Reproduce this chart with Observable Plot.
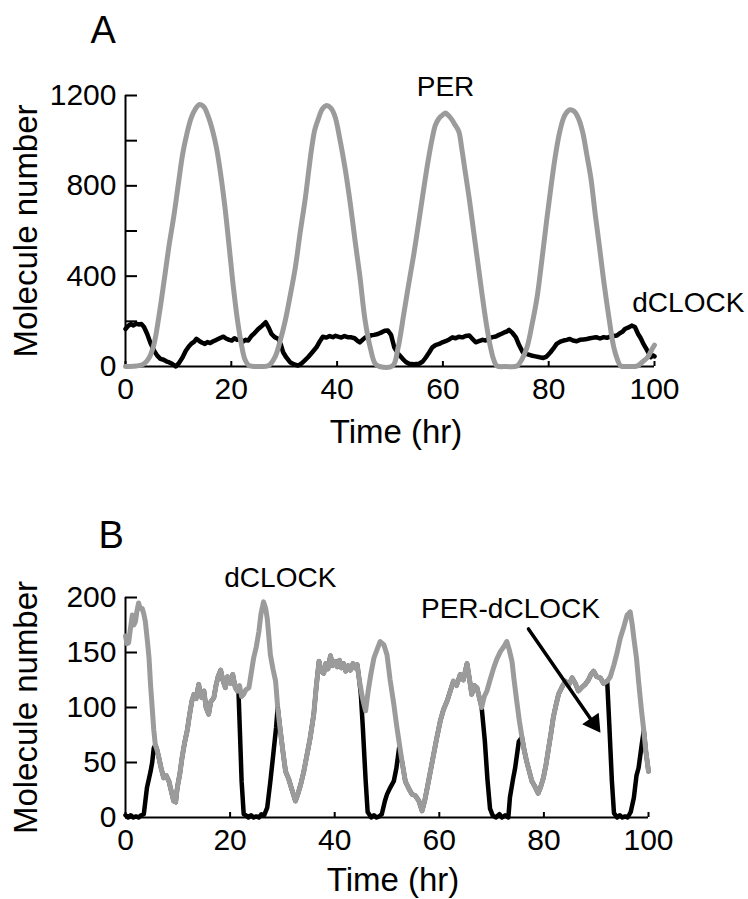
<!DOCTYPE html>
<html>
<head>
<meta charset="utf-8">
<script src="https://cdn.jsdelivr.net/npm/d3@7"></script>
<script src="https://cdn.jsdelivr.net/npm/@observablehq/plot@0.6"></script>
<style>
  body { margin: 0; background: #fff; }
  #chart { width: 748px; }
  #chart svg { display: block; }
</style>
</head>
<body>
<div id="chart"></div>
<script>
// ---------- Panel A: PER (gray) ----------
const tPerA = [0,2,3.4,4.5,5.4,6.3,7.3,8.2,9.2,10,10.8,11.6,12.4,13.2,14,14.8,15.6,16.4,17.2,18,18.8,19.6,20.4,21.2,22,22.6,23.3,25,27.1,28.3,29.2,30.2,31.1,32.1,33,34,34.6,35.2,35.8,36.5,37.2,38,38.8,39.6,40.5,41.5,42.5,43.4,44.3,45.3,46.3,47.2,48,50.5,51.5,52.6,53.5,54.5,55.5,56.4,57.2,58,58.6,59.3,60,60.5,61.1,61.7,62.3,63,63.6,64.2,65,65.8,66.6,67.4,68.2,69,69.6,70.2,72,74,74.9,75.9,76.8,77.8,78.7,79.6,80.4,81.2,82,82.8,83.4,84,84.8,85.6,86.4,87.2,88,88.8,89.6,90.4,91.3,92.3,93,93.6,95,96.8,97.7,98.7,99.5,100];
const vPerA = [0,2,10,40,100,220,380,530,676,810,940,1030,1100,1140,1160,1150,1110,1050,968,850,705,530,350,200,86,30,5,0,5,44,110,203,310,438,590,747,860,968,1050,1100,1140,1156,1145,1107,1010,879,720,556,400,203,80,12,0,3,80,232,360,497,650,791,910,1012,1070,1100,1115,1122,1110,1093,1070,1041,960,865,740,600,460,320,190,85,30,3,0,2,30,85,180,306,470,644,790,924,1030,1100,1125,1137,1130,1100,1040,938,830,673,530,379,230,85,30,3,0,3,20,41,75,95];

// ---------- Panel A: dCLOCK (black) ----------
const tClkA = [0,0.5,1,1.5,2,2.5,3,3.5,4.1,4.7,5.4,6,6.6,7.2,7.8,8.2,8.8,9.5,10.1,10.8,11.4,12,12.4,13,13.4,14,14.5,15,15.5,16,16.6,17.2,17.8,18.5,19,19.6,20.1,20.6,21.1,21.6,22.2,22.7,23.2,23.8,24.4,25.1,25.8,26.5,27.1,27.6,28.2,28.9,29.4,29.8,30.4,31.1,31.8,32.6,33.2,33.8,34.5,35.2,36.1,36.7,37.3,38,38.6,39.2,39.7,40.2,40.8,41.4,42,42.7,43.3,43.8,44.3,44.9,45.4,45.8,46.4,47,47.7,48.3,49,49.6,50.2,50.8,51.5,52.4,53,53.6,54.5,55.5,56.2,56.8,57.4,58,58.6,59.3,59.9,60.5,61.2,61.8,62.4,63,63.7,64.3,65,65.6,66.2,66.8,67.5,68.1,68.7,69.4,70,70.6,71.1,71.6,72.1,72.5,73.1,73.8,74.4,75.1,75.9,76.7,77.5,78.3,79,79.6,80.3,80.9,81.5,82.2,82.8,83.4,84,84.6,85.3,85.9,86.6,87.2,87.8,88.5,89.1,89.7,90.4,91,91.6,92.3,92.9,93.5,94,94.4,95,95.7,96.3,96.9,97.4,97.9,98.4,98.8,99.3,99.7,100];
const vClkA = [166,180,188,182,190,186,188,175,144,105,70,48,34,30,22,19,12,0,15,41,70,90,100,110,122,112,105,100,108,104,112,118,125,132,124,118,115,125,118,122,110,118,115,135,148,166,180,196,170,144,130,122,95,63,40,19,10,4,12,25,41,60,85,110,132,128,135,130,136,132,128,135,130,129,125,115,107,120,130,128,138,140,144,150,158,159,140,85,58,34,20,12,10,12,22,41,62,85,95,100,107,112,120,129,125,132,129,135,137,122,107,112,118,115,125,130,133,140,145,151,155,162,150,129,95,63,55,49,45,41,38,44,62,80,100,110,115,118,122,115,112,118,120,122,125,128,129,124,130,127,132,135,137,148,155,166,172,181,175,144,125,100,80,63,41,50,45];

// ---------- Panel B: dCLOCK (gray) ----------
const tClkB = [0,0.3,0.6,0.9,1.3,1.6,1.9,2.2,2.5,2.8,3.2,3.5,3.8,4.2,4.5,4.8,5.1,5.4,5.7,6,6.4,6.8,7.3,7.8,8.3,8.7,9.2,9.6,9.9,10.4,10.8,11.3,11.8,12.2,12.7,13.1,13.5,14,14.3,14.6,15,15.4,15.9,16.3,16.9,17.3,17.7,18.2,18.6,19.1,19.5,20.1,20.5,21,21.4,21.8,22.2,22.6,23,23.6,24,24.5,25,25.5,25.9,26.4,26.8,27.1,27.4,27.7,28.2,28.7,29.1,29.6,30.1,30.6,31.2,31.9,32.5,33,33.5,34.1,34.7,35.3,36,36.5,37,37.4,37.9,38.3,38.7,39.2,39.6,40.1,40.5,40.9,41.3,41.7,42.1,42.6,43,43.5,43.9,44.3,44.7,45.3,45.9,46.4,46.9,47.5,48.2,48.7,49.4,50,50.6,51.3,51.8,52.3,52.9,53.5,54.2,54.8,55.4,56.1,56.7,57.2,57.7,58.3,58.9,59.5,60.2,60.8,61.5,62.1,62.7,63.3,64,64.6,65.3,65.8,66.2,66.7,67.2,67.7,68.1,68.6,69.1,69.7,70.4,71,71.7,72.3,72.9,73.4,73.9,74.3,74.8,75.3,75.8,76.2,76.7,77.2,77.7,78.3,78.9,79.4,79.9,80.4,80.9,81.4,81.8,82.3,82.8,83.4,84.1,84.7,85.4,86,86.6,87.2,87.9,88.5,89,89.5,90.1,90.8,91.4,92.1,92.7,93.4,94,94.6,95.2,95.9,96.5,96.9,97.2,97.7,98.1,98.6,99.1,99.5,100];
const vClkB = [165,158,159,170,184,175,178,188,195,190,190,185,178,160,145,120,100,80,66,62,54,45,36,38,33,25,15,14,27,40,54,68,79,92,106,112,108,121,112,109,115,100,94,105,109,120,128,134,125,118,128,122,130,118,115,120,110,112,116,118,130,145,155,169,185,196,190,181,165,148,135,124,100,79,60,42,35,24,15,22,30,42,57,72,94,120,142,133,131,140,135,147,138,142,137,143,136,140,133,138,134,140,136,139,125,109,97,115,130,145,154,160,157,148,125,103,85,69,50,33,26,21,20,15,6,15,27,42,57,72,88,98,106,115,124,120,130,125,140,125,112,120,118,108,100,110,115,125,136,144,151,155,160,152,142,125,106,88,73,62,51,42,33,28,22,28,36,48,63,78,91,102,112,118,124,120,127,122,115,118,121,125,130,133,128,127,122,124,128,139,150,163,172,184,187,175,163,145,124,100,79,60,42];

// ---------- Panel B: PER-dCLOCK (black), parts not hidden under the gray ----------
const tPdcB = [0,0.5,1,1.5,2,2.5,3,3.5,4.1,4.8,5.1,5.4, 21.6,21.9,22.2,22.6,23,23.5,24,24.5,25,25.5,26,26.5,27.1,27.7,28.2,28.8, 45.0,45.4,45.9,46.3,47,47.5,48,48.5,49,49.6,50,50.6,51.3,51.8,52.3, 68.1,68.7,69.2,69.7,70.2,70.8,71.5,72,72.6,73.2,73.5,74.1,74.5,75.2, 92.1,92.5,93,93.4,94,94.5,95,95.5,96,96.6,97.2,97.7,98.1,98.7];
const vPdcB = [2,0,2,0,1,0,2,3,27,42,50,63, 115,75,33,3,2,0,2,0,1,0,3,2,9,33,55,82, 112,80,35,5,0,2,0,1,3,15,21,27,33,45,63, 100,70,35,8,2,0,3,0,2,0,18,35,45,69, 124,85,33,4,0,2,0,1,0,5,18,38,45,66];
// time spans where the black trace runs under the gray one
const pdcHiddenStart = [5.6, 28.9, 52.4, 75.7, 98.8];
const pdcHiddenEnd   = [21.5, 44.9, 68.0, 92.0, 100];

// ---------- ticks, labels, annotation ----------
const xTicks = [0,20,40,60,80,100];
const yTicksA = [0,200,400,600,800,1000,1200];
const yLabelsA = [0,400,800,1200];
const yTicksB = [0,50,100,150,200];
const arrowFrom = [77.05, 171.4];
const arrowTo = [90.8, 76.9];

const gray = "#9b9b9b";
const font = "Liberation Sans, Arial, Helvetica, sans-serif";

const perA = tPerA.map((t, i) => ({t, v: vPerA[i]}));
const clkA = tClkA.map((t, i) => ({t, v: vClkA[i]}));
const clkB = tClkB.map((t, i) => ({t, v: vClkB[i]}));
const pdcB = tPdcB.map((t, i) => ({t, v: vPdcB[i]}))
  .concat(clkB.filter(d => pdcHiddenStart.some((s, k) => d.t >= s && d.t <= pdcHiddenEnd[k])))
  .sort((a, b) => a.t - b.t);

function axes(yTicks, yLabels, titleDy) {
  return [
    Plot.axisY(yTicks, {tickSize: -12, text: null, strokeWidth: 2, label: null}),
    Plot.axisY(yLabels, {tickSize: 0, tickPadding: 9, tickFormat: d => String(d), fontSize: 30, fontFamily: font, fill: "black", label: null}),
    Plot.axisX(xTicks, {tickSize: -5, text: null, strokeWidth: 2, label: null}),
    Plot.axisX(xTicks, {tickSize: 0, tickPadding: 11, tickFormat: d => String(d), fontSize: 30, fontFamily: font, fill: "black", label: null}),
    Plot.ruleX([0], {stroke: "black", strokeWidth: 2}),
    Plot.ruleY([0], {stroke: "black", strokeWidth: 2}),
    Plot.text(["Molecule number"], {frameAnchor: "left", rotate: -90, dx: -89, textAnchor: "middle", lineAnchor: "bottom", fontSize: 33, fontFamily: font, fill: "black"}),
    Plot.text(["Time (hr)"], {frameAnchor: "bottom", dx: 6, dy: titleDy, lineAnchor: "bottom", fontSize: 33, fontFamily: font, fill: "black"})
  ];
}

const plotA = Plot.plot({
  width: 748, height: 460,
  marginLeft: 125, marginRight: 94, marginTop: 95, marginBottom: 94,
  x: {domain: [0, 100]},
  y: {domain: [0, 1200]},
  style: {fontFamily: font, color: "black", background: "white", overflow: "visible"},
  marks: [
    ...axes(yTicksA, yLabelsA, 76),
    Plot.line(clkA, {x: "t", y: "v", stroke: "black", strokeWidth: 4.5, strokeLinejoin: "round", strokeLinecap: "round"}),
    Plot.line(perA, {x: "t", y: "v", stroke: gray, strokeWidth: 5, strokeLinejoin: "round", strokeLinecap: "round", curve: "catmull-rom"}),
    Plot.text(["PER"], {x: 60.5, y: 1200, lineAnchor: "bottom", fontSize: 28, fontFamily: font, fill: "black"}),
    Plot.text(["dCLOCK"], {x: 95.8, y: 243, textAnchor: "start", lineAnchor: "bottom", fontSize: 28, fontFamily: font, fill: "black"}),
    Plot.text(["A"], {frameAnchor: "top-left", dx: -35, dy: -53, textAnchor: "start", lineAnchor: "bottom", fontSize: 38, fontFamily: font, fill: "black"})
  ]
});

const plotB = Plot.plot({
  width: 748, height: 439,
  marginLeft: 125, marginRight: 100, marginTop: 137, marginBottom: 82,
  x: {domain: [0, 100]},
  y: {domain: [0, 200]},
  style: {fontFamily: font, color: "black", background: "white", overflow: "visible"},
  marks: [
    ...axes(yTicksB, yTicksB, 73),
    Plot.line(pdcB, {x: "t", y: "v", stroke: "black", strokeWidth: 4.5, strokeLinejoin: "round", strokeLinecap: "round"}),
    Plot.line(clkB, {x: "t", y: "v", stroke: gray, strokeWidth: 5, strokeLinejoin: "round", strokeLinecap: "round"}),
    Plot.text(["dCLOCK"], {x: 29.6, y: 210, lineAnchor: "bottom", fontSize: 28, fontFamily: font, fill: "black"}),
    Plot.text(["PER-dCLOCK"], {x: 73.6, y: 181, lineAnchor: "bottom", fontSize: 28, fontFamily: font, fill: "black"}),
    Plot.arrow([{x1: arrowFrom[0], y1: arrowFrom[1], x2: arrowTo[0], y2: arrowTo[1]}],
      {x1: "x1", y1: "y1", x2: "x2", y2: "y2", stroke: "black", strokeWidth: 3.5, headLength: 0, insetEnd: 14, bend: 0}),
    Plot.dot([{x: arrowTo[0], y: arrowTo[1]}],
      {x: "x", y: "y", symbol: "triangle", r: 7.5, rotate: 145, fill: "black", stroke: "none", dx: -6.6, dy: -9.6}),
    Plot.text(["B"], {frameAnchor: "top-left", dx: -27, dy: -50, textAnchor: "start", lineAnchor: "bottom", fontSize: 38, fontFamily: font, fill: "black"})
  ]
});

document.getElementById("chart").append(plotA, plotB);
</script>
</body>
</html>
